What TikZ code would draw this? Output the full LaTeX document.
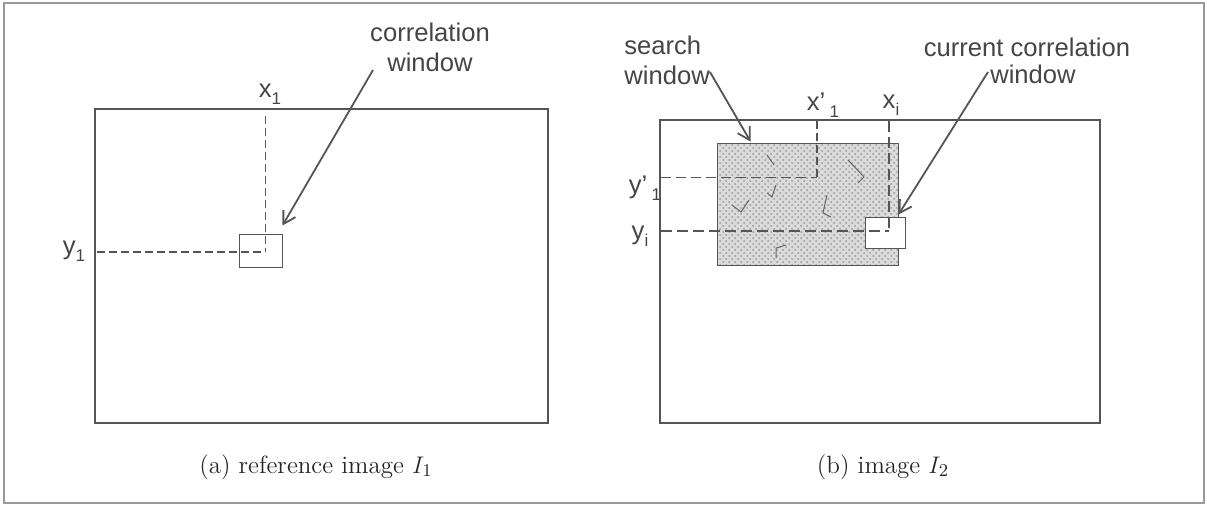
\documentclass[tikz,border=0pt]{standalone}
\usepackage{fontspec}
\newfontfamily\lblfont{Liberation Sans}
\usetikzlibrary{arrows.meta, patterns}
\definecolor{lineGray}{HTML}{555555}
\definecolor{textGray}{HTML}{454545}
\definecolor{frameGray}{HTML}{9A9A9A}
\newcommand{\lowsub}[1]{\raisebox{-0.55ex}{\fontsize{8.5}{9}\selectfont #1}}

\begin{document}
\begin{tikzpicture}[x=0.5pt, y=-0.5pt,
    lbl/.style={font=\lblfont\fontsize{12.8}{15}\selectfont, text=textGray, inner sep=0pt},
    captext/.style={font=\fontsize{12.5}{15}\selectfont, text=black!85, inner sep=0pt},
    imgframe/.style={draw=lineGray, line width=1pt},
    winbox/.style={draw=lineGray, line width=0.5pt, fill=white, inner sep=0pt},
    pointer/.style={draw=lineGray, line width=0.9pt, -{Straight Barb[length=6pt, width=7pt]}},
    thindash/.style={draw=lineGray, line width=0.5pt, dash pattern=on 4pt off 2pt},
    thickdash/.style={draw=lineGray, line width=1.2pt, dash pattern=on 5.5pt off 2.5pt},
    scratch/.style={draw=black!60, line width=0.5pt}]

    \useasboundingbox (0,0) rectangle (1207,505);
    \draw[frameGray, line width=0.8pt] (4,3) rectangle (1204,503);

    % (a) reference image
    \draw[imgframe] (95,109) rectangle (548,423);
    \node[winbox, minimum width=21.5pt, minimum height=16.5pt] (boxA) at (260.5,250.5) {};
    \coordinate (ptA) at (265,252);
    \draw[thindash] (265,116) -- (ptA);
    \draw[thindash, line width=0.9pt] (97,252) -- (ptA);
    \node[lbl] (xA) at (270,94) {x\lowsub{1}};
    \node[lbl] (yA) at (74,251) {y\lowsub{1}};
    \node[lbl, align=center] (corrtext) at (430,47) {correlation\\window};
    \coordinate (corrTail) at (373,70);
    \draw[pointer] (corrTail) -- ([yshift=4pt]boxA.north east);
    \node[captext] (capA) at (316,467) {(a) reference image $I_1$};

    % (b) image I2
    \draw[imgframe] (660,120) rectangle (1100,423);
    \node[inner sep=0pt, minimum width=90pt, minimum height=60.5pt] (search) at (808,204.5) {};
    \fill[gray!28] (search.north west) rectangle (search.south east);
    \fill[pattern=crosshatch dots, pattern color=gray!80] (search.north west) rectangle (search.south east);
    \draw[lineGray, line width=0.6pt] (search.north west) rectangle (search.south east);
    % scratches on the search window
    \draw[scratch] (767,155) -- (774,165);
    \draw[scratch] (848,160) -- (864,177) -- (858,183);
    \draw[scratch] (767,193) -- (772,197) -- (776,185);
    \draw[scratch] (732,205) -- (741,212) -- (749,200);
    \draw[scratch] (827,195) -- (823,213) -- (831,217);
    \draw[scratch] (776,258) -- (776,248) -- (786,245);

    \node[winbox, minimum width=20pt, minimum height=15.5pt] (boxB) at (885,232.5) {};
    \coordinate (ptP) at (817,177);
    \coordinate (ptB) at (889,231);
    \draw[thindash, line width=0.9pt] (817,121) -- (ptP);
    \draw[thindash, dash pattern=on 5pt off 2.5pt] (661,177) -- (ptP);
    \draw[thickdash] (889,121) -- (ptB);
    \draw[thickdash] (661,231) -- (ptB);

    \node[lbl] (xP) at (823,105) {x’\,\lowsub{1}};
    \node[lbl] (xB) at (891,105) {x\lowsub{i}};
    \node[lbl] (yP) at (645,188) {y’\,\lowsub{1}};
    \node[lbl] (yB) at (640,236) {y\lowsub{i}};

    \node[lbl, align=left, anchor=north west] (searchtext) at (624,36) {search\\window};
    \coordinate (searchTail) at (710,72);
    \draw[pointer] (searchTail) -- ([xshift=16.5pt, yshift=1pt]search.north west);

    \node[lbl] (currtext) at (1027,47) {current correlation};
    \node[lbl] (currwin) at (1033,74) {window};
    \coordinate (currTail) at (988,72);
    \draw[pointer] (currTail) -- ([xshift=-3.5pt, yshift=1pt]boxB.north east);
    \node[captext] (capB) at (883,467) {(b) image $I_2$};
\end{tikzpicture}
\end{document}
